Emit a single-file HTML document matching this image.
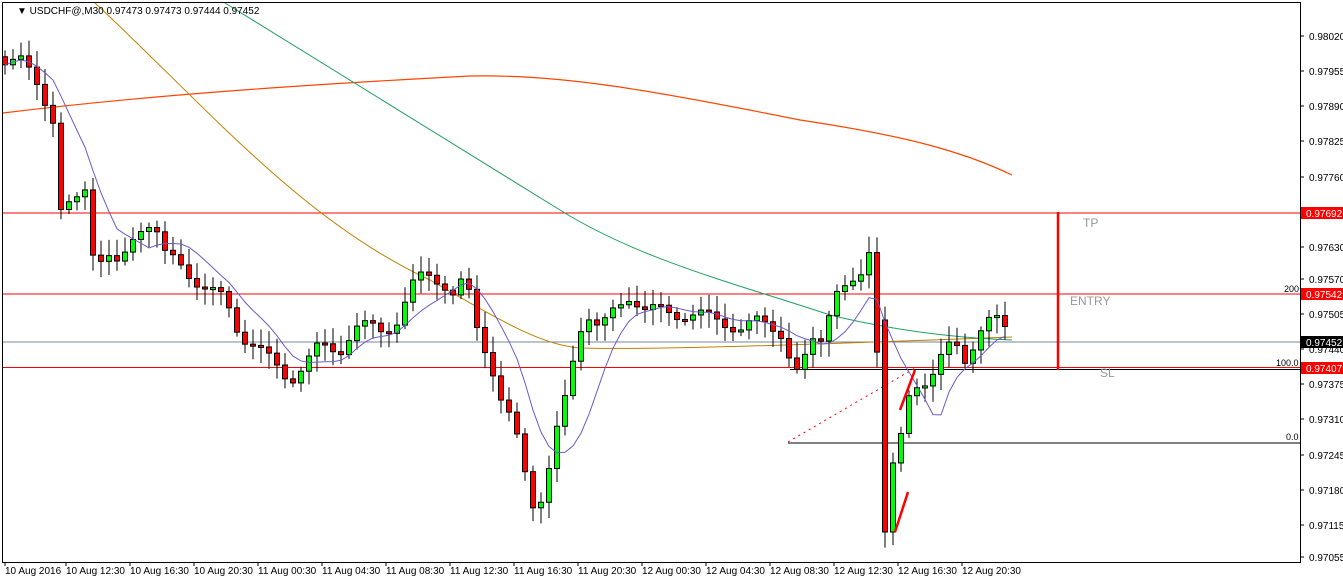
<!DOCTYPE html>
<html><head><meta charset="utf-8"><style>
body{margin:0;background:#fff;width:1343px;height:581px;overflow:hidden;font-family:"Liberation Sans",sans-serif}
svg{position:absolute;left:0;top:0}
text{font-family:"Liberation Sans",sans-serif;font-size:10px;fill:#000}
</style></head><body>
<svg id="s" width="1343" height="581" xmlns="http://www.w3.org/2000/svg">
<rect x="2.5" y="2.5" width="1298" height="560" fill="#fff" stroke="#000"/>
<g id="lines">
<line x1="3" y1="213" x2="1300" y2="213" stroke="#f00"/>
<line x1="3" y1="294" x2="1300" y2="294" stroke="#f00"/>
<line x1="3" y1="342" x2="1300" y2="342" stroke="#778899"/>
<line x1="3" y1="367.5" x2="1300" y2="367.5" stroke="#f00"/>
<line x1="790" y1="369.5" x2="1300" y2="369.5" stroke="#000"/>
<line x1="788" y1="443" x2="1300" y2="443" stroke="#000"/>
<line x1="788" y1="442" x2="915" y2="368" stroke="#f00" stroke-dasharray="2,4"/>
<line x1="1058" y1="212" x2="1058" y2="370" stroke="#f00" stroke-width="2.5"/>
<path d="M3,113 C150,95 300,85 470,76 C560,74 650,90 800,120 C900,135 960,150 1012,175" fill="none" stroke="#ff4500" stroke-width="1.2"/>
<path d="M95,3 C200,100 300,220 430,280 C500,320 540,345 580,348 C650,350 800,345 1012,337" fill="none" stroke="#c08000" stroke-width="1"/>
<path d="M225,3 C350,80 480,160 560,210 C640,260 740,285 830,315 C900,332 960,338 1012,340" fill="none" stroke="#20a060" stroke-width="1"/>
</g>
<g id="c"></g>
<g>
<text x="1083" y="227" style="fill:#999;font-size:12px">TP</text>
<text x="1070" y="305" style="fill:#999;font-size:12px">ENTRY</text>
<text x="1100" y="377" style="fill:#999;font-size:12px">SL</text>
<text x="1284" y="292" style="font-size:9px">200</text>
<text x="1276" y="366" style="font-size:9px">100.0</text>
<text x="1286" y="440" style="font-size:9px">0.0</text>
<text x="17" y="14">▼ USDCHF@,M30  0.97473 0.97473 0.97444 0.97452</text>
</g>
<g id="ax"></g>
</svg>
<script>
(function(){
var ns="http://www.w3.org/2000/svg",c=document.getElementById('c'),ax=document.getElementById('ax');
function el(t,a,p){var e=document.createElementNS(ns,t);for(var k in a)e.setAttribute(k,a[k]);(p||c).appendChild(e);return e;}
var kp=[[5,60],[20,60],[35,80],[45,100],[52,105],[60,210],[75,205],[85,190],[95,265],[105,250],[120,270],[130,245],[145,220],[155,225],[165,255],[180,265],[195,280],[210,290],[225,300],[240,335],[255,345],[270,360],[290,380],[305,365],[320,345],[340,350],[355,330],[370,325],[385,330],[400,320],[410,290],[425,270],[440,280],[455,300],[465,275],[475,320],[490,360],[500,400],[515,430],[525,470],[535,510],[545,490],[555,440],[565,400],[575,350],[585,310],[600,330],[615,310],[630,295],[645,310],[660,310],[680,315],[700,315],[720,320],[740,330],[760,320],[780,330],[790,360],[800,380],[810,340],[820,340],[835,290],[850,290],[860,280],[870,245],[876,320],[884,530],[892,470],[900,445],[908,400],[915,385],[925,380],[935,370],[945,350],[955,345],[965,360],[975,340],[985,320],[1000,322],[1012,340]];
function interp(x){for(var i=1;i<kp.length;i++){if(x<=kp[i][0]){var a=kp[i-1],b=kp[i];return a[1]+(b[1]-a[1])*(x-a[0])/(b[0]-a[0]);}}return kp[kp.length-1][1];}
var closes=[],xs=[];for(var x=5;x<=1012;x+=8){xs.push(x);closes.push(interp(x)+Math.sin(x*1.7)*6);}
var prev=closes[0]-8,ma=[];
for(var i=0;i<xs.length;i++){var x=xs[i],cl=closes[i],op=prev;if(i>0&&Math.abs(x-884)<4){op=320;cl=532;}
var bt=Math.min(op,cl),bb=Math.max(op,cl);if(bb-bt<2)bb=bt+2;
var wt=bt-4-Math.abs(Math.sin(x*3.1))*12,wb=bb+4+Math.abs(Math.cos(x*2.3))*12;
el('line',{x1:x,y1:wt,x2:x,y2:wb,stroke:'#000'});
el('rect',{x:x-2.5,y:bt,width:5,height:bb-bt,fill:cl<op?'#00ff00':'#ff0000',stroke:'#000','stroke-width':1});
prev=cl;var s=0,n=0;for(var j=Math.max(0,i-7);j<=i;j++){s+=closes[j];n++;}ma.push([x,s/n]);}
el('polyline',{points:ma.map(function(p){return p.join(',')}).join(' '),fill:'none',stroke:'#6a5acd','stroke-width':1});
el('line',{x1:895,y1:532,x2:908,y2:492,stroke:'#f00','stroke-width':2.5});
el('line',{x1:900,y1:410,x2:915,y2:370,stroke:'#f00','stroke-width':2.5});
var tk=[["0.98020",36],["0.97955",71],["0.97890",106],["0.97825",141],["0.97760",177],["0.97630",247],["0.97570",279],["0.97505",314],["0.97440",349],["0.97375",384],["0.97310",419],["0.97245",455],["0.97180",490],["0.97115",525],["0.97055",557]];
tk.forEach(function(t){el('line',{x1:1300,y1:t[1],x2:1304,y2:t[1],stroke:'#000'},ax);el('text',{x:1309,y:t[1]+4},ax).textContent=t[0];});
[["0.97692",213,'#f00'],["0.97542",294,'#f00'],["0.97452",342,'#000'],["0.97407",368,'#f00']].forEach(function(t){el('rect',{x:1301,y:t[1]-6,width:42,height:12,fill:t[2]},ax);var e=el('text',{x:1306,y:t[1]+4},ax);e.textContent=t[0];e.style.fill='#fff';});
var dl=["10 Aug 2016","10 Aug 12:30","10 Aug 16:30","10 Aug 20:30","11 Aug 00:30","11 Aug 04:30","11 Aug 08:30","11 Aug 12:30","11 Aug 16:30","11 Aug 20:30","12 Aug 00:30","12 Aug 04:30","12 Aug 08:30","12 Aug 12:30","12 Aug 16:30","12 Aug 20:30"];
dl.forEach(function(d,i){var x=i==0?5:66+(i-1)*64;el('line',{x1:x,y1:562,x2:x,y2:566,stroke:'#000'},ax);el('text',{x:x,y:574},ax).textContent=d;});
})();
</script>
</body></html>
